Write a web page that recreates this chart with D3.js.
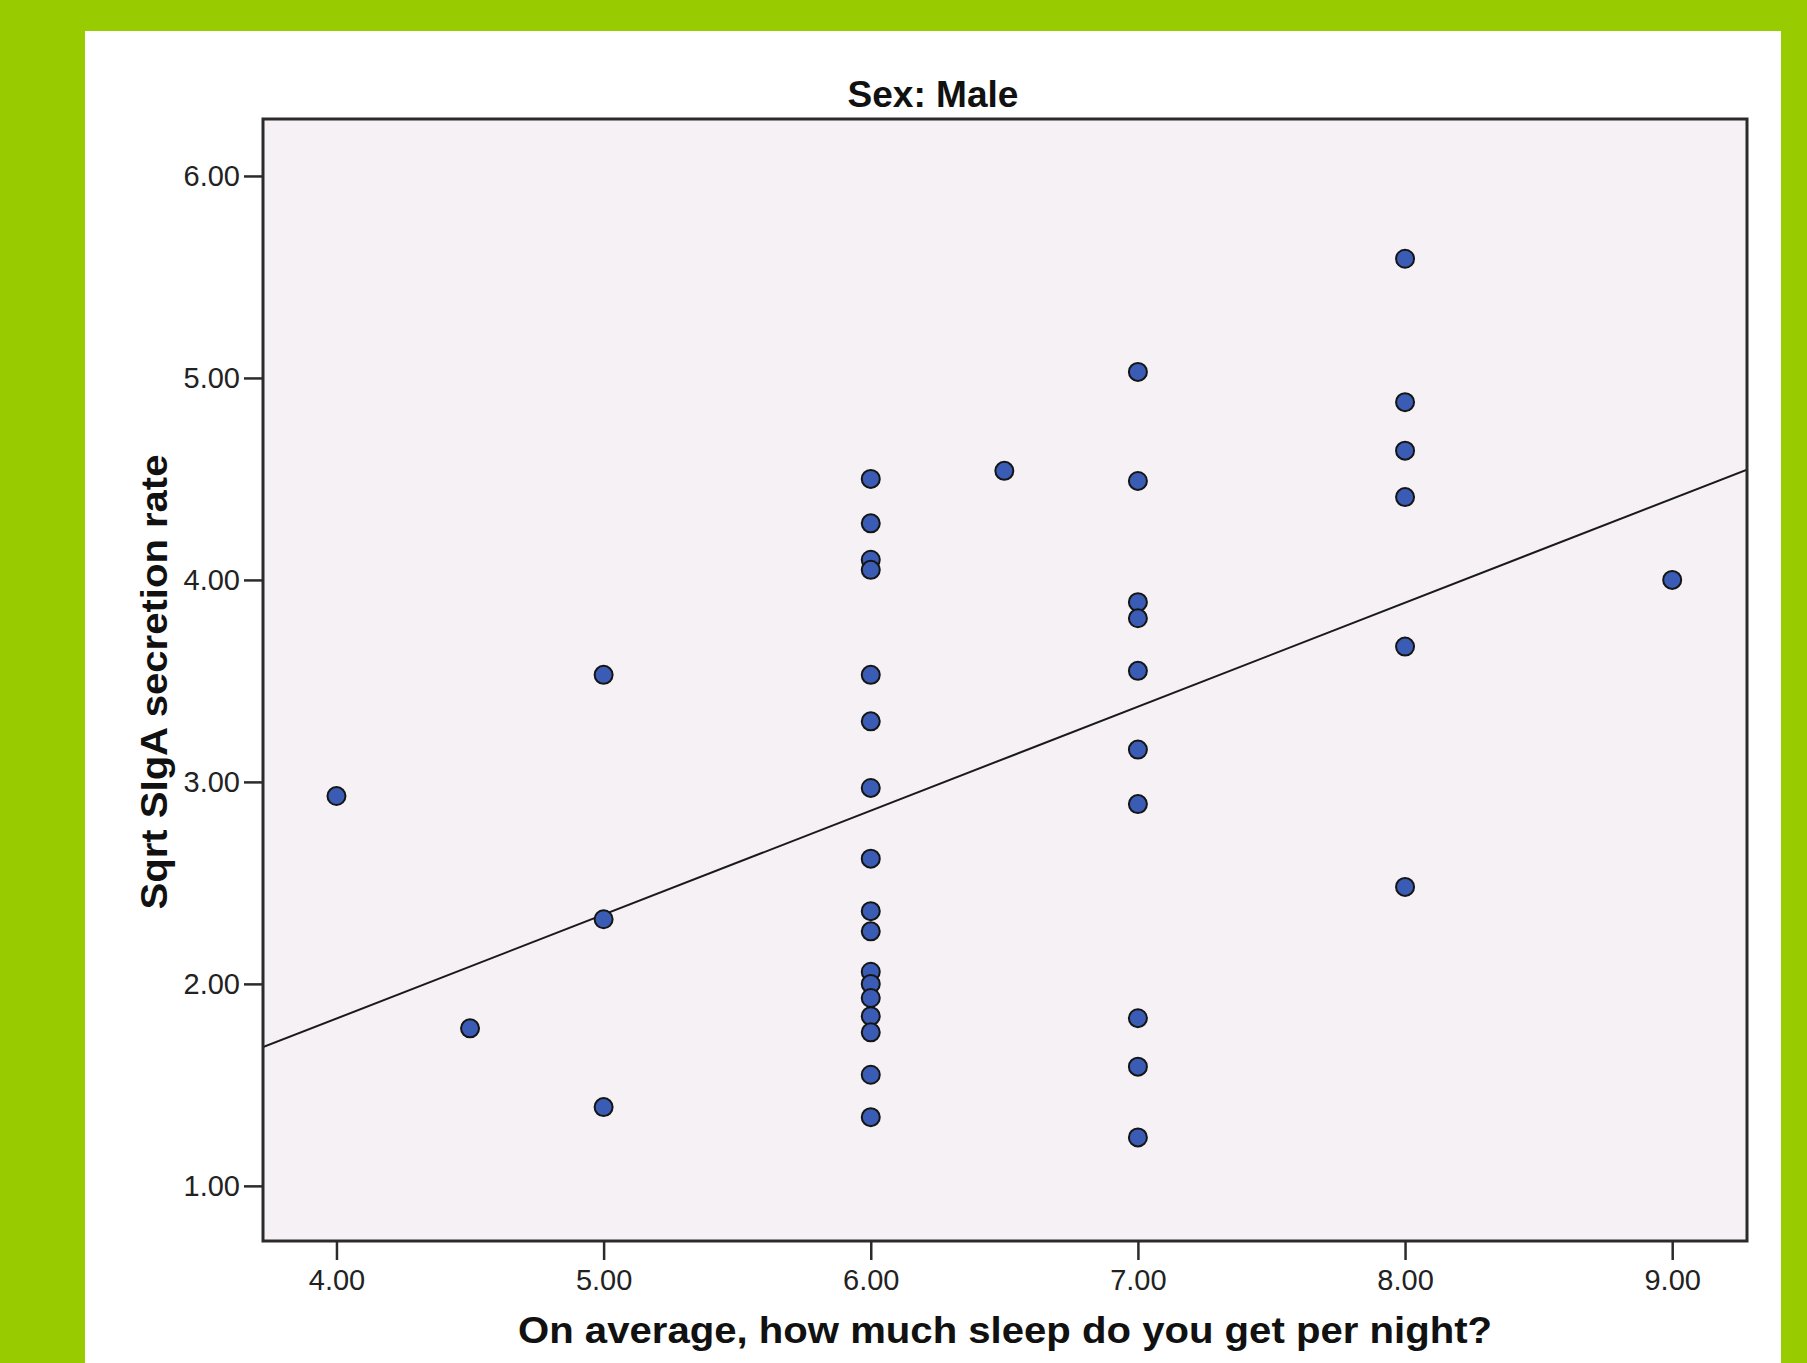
<!DOCTYPE html>
<html lang="en">
<head>
<meta charset="UTF-8">
<title>Sex: Male</title>
<style>
  html, body { margin: 0; padding: 0; background: #99cc00; }
  svg { display: block; }
</style>
</head>
<body>
<svg id="chart"></svg>
<script src="https://cdn.jsdelivr.net/npm/d3@7/dist/d3.min.js"></script>
<script>
// hours of sleep per night (x) and sqrt SIgA secretion rate (y)
const sleepHours = [
  4, 4.5,
  5, 5, 5,
  6, 6, 6, 6, 6, 6, 6, 6, 6, 6, 6, 6, 6, 6, 6, 6, 6,
  6.5,
  7, 7, 7, 7, 7, 7, 7, 7, 7, 7,
  8, 8, 8, 8, 8, 8,
  9
];
const sqrtSIgA = [
  2.93, 1.78,
  3.53, 2.32, 1.39,
  4.50, 4.28, 4.10, 4.05, 3.53, 3.30, 2.97, 2.62, 2.36, 2.26, 2.06, 2.00, 1.93, 1.84, 1.76, 1.55, 1.34,
  4.54,
  5.03, 4.49, 3.89, 3.81, 3.55, 3.16, 2.89, 1.83, 1.59, 1.24,
  5.59, 4.88, 4.64, 4.41, 3.67, 2.48,
  4.00
];
const xTicks = [4, 5, 6, 7, 8, 9];
const yTicks = [1, 2, 3, 4, 5, 6];

const W = 1807, H = 1363;
const plot = { left: 263, right: 1747, top: 119, bottom: 1241 };

const svg = d3.select("#chart").attr("width", W).attr("height", H);

// white card over the green page
svg.append("rect")
  .attr("x", 85).attr("y", 31)
  .attr("width", 1781 - 85).attr("height", H - 31)
  .attr("fill", "#ffffff");

const x = d3.scaleLinear().domain([3.725, 9.28]).range([plot.left, plot.right]);
const y = d3.scaleLinear().domain([0.727, 6.282]).range([plot.bottom, plot.top]);

// plot background
svg.append("rect")
  .attr("x", plot.left).attr("y", plot.top)
  .attr("width", plot.right - plot.left).attr("height", plot.bottom - plot.top)
  .attr("fill", "#f5f1f5");

const fmt = d3.format(".2f");

// axes
const xAxis = svg.append("g")
  .attr("transform", "translate(0," + plot.bottom + ")")
  .call(d3.axisBottom(x).tickValues(xTicks).tickFormat(fmt).tickSize(19).tickPadding(9));
const yAxis = svg.append("g")
  .attr("transform", "translate(" + plot.left + ",0)")
  .call(d3.axisLeft(y).tickValues(yTicks).tickFormat(fmt).tickSize(19).tickPadding(4));

[xAxis, yAxis].forEach(function (a) {
  a.select(".domain").remove();
  a.selectAll(".tick line").attr("stroke", "#2b2b2b").attr("stroke-width", 2.5);
  a.selectAll(".tick text")
    .attr("fill", "#222")
    .style("font-family", "'Liberation Sans', Arial, sans-serif")
    .style("font-size", "29px");
});

// regression line (least squares from the points)
const n = sleepHours.length;
const mx = d3.mean(sleepHours), my = d3.mean(sqrtSIgA);
let sxy = 0, sxx = 0;
for (let i = 0; i < n; i++) {
  sxy += (sleepHours[i] - mx) * (sqrtSIgA[i] - my);
  sxx += (sleepHours[i] - mx) * (sleepHours[i] - mx);
}
const slope = sxy / sxx, intercept = my - slope * mx;
const xd = x.domain();

svg.append("defs").append("clipPath").attr("id", "plotClip")
  .append("rect")
  .attr("x", plot.left).attr("y", plot.top)
  .attr("width", plot.right - plot.left).attr("height", plot.bottom - plot.top);

svg.append("line")
  .attr("clip-path", "url(#plotClip)")
  .attr("x1", x(xd[0])).attr("y1", y(intercept + slope * xd[0]))
  .attr("x2", x(xd[1])).attr("y2", y(intercept + slope * xd[1]))
  .attr("stroke", "#1a1a1a")
  .attr("stroke-width", 2);

// points
const points = sleepHours.map(function (h, i) { return { h: h, v: sqrtSIgA[i] }; });
svg.append("g").selectAll("circle")
  .data(points)
  .enter().append("circle")
  .attr("cx", function (d) { return x(d.h); })
  .attr("cy", function (d) { return y(d.v); })
  .attr("r", 9)
  .attr("fill", "#3a5cb4")
  .attr("stroke", "#151515")
  .attr("stroke-width", 2);

// frame
svg.append("rect")
  .attr("x", plot.left).attr("y", plot.top)
  .attr("width", plot.right - plot.left).attr("height", plot.bottom - plot.top)
  .attr("fill", "none")
  .attr("stroke", "#2b2b2b")
  .attr("stroke-width", 3);

// titles
const bold = "'Liberation Sans', Arial, sans-serif";
svg.append("text")
  .attr("x", (plot.left + plot.right) / 2 - 72).attr("y", 107)
  .attr("text-anchor", "middle")
  .attr("textLength", 171).attr("lengthAdjust", "spacingAndGlyphs")
  .style("font-family", bold).style("font-weight", "bold").style("font-size", "37px")
  .attr("fill", "#111")
  .text("Sex: Male");

svg.append("text")
  .attr("x", (plot.left + plot.right) / 2).attr("y", 1343)
  .attr("text-anchor", "middle")
  .attr("textLength", 974).attr("lengthAdjust", "spacingAndGlyphs")
  .style("font-family", bold).style("font-weight", "bold").style("font-size", "37px")
  .attr("fill", "#111")
  .text("On average, how much sleep do you get per night?");

svg.append("text")
  .attr("transform", "translate(167," + ((plot.top + plot.bottom) / 2 + 2) + ") rotate(-90)")
  .attr("text-anchor", "middle")
  .attr("textLength", 455).attr("lengthAdjust", "spacingAndGlyphs")
  .style("font-family", bold).style("font-weight", "bold").style("font-size", "37px")
  .attr("fill", "#111")
  .text("Sqrt SIgA secretion rate");
</script>
</body>
</html>
